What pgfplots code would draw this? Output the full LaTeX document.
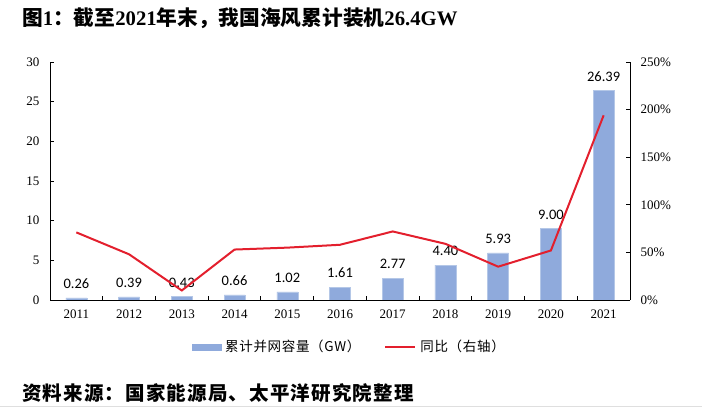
\documentclass[border=0pt]{standalone}
\usepackage{pgfplots}
\pgfplotsset{compat=1.18}
\usepackage{fontspec}
\setmainfont{Liberation Serif}
\newfontfamily\cjk{Noto Sans CJK SC}
\newfontfamily\cjksp{Noto Sans CJK SC}[LetterSpace=6]
\newfontfamily\cjkleg{Noto Sans CJK SC}[LetterSpace=5]
\newfontfamily\calib{Carlito}
\definecolor{barblue}{HTML}{8FAADC}
\definecolor{baredge}{HTML}{B4C7E7}
\definecolor{linered}{HTML}{E31F2D}
\begin{document}
\begin{tikzpicture}
\useasboundingbox (0,0) rectangle (702pt,407pt);
\begin{axis}[
  at={(50pt,107pt)}, anchor=south west,
  scale only axis, width=580pt, height=238pt,
  xmin=-0.5, xmax=10.5, ymin=0, ymax=30,
  axis x line*=bottom, axis y line*=left,
  axis line style={line width=0.9pt, -},
  ytick={0,5,...,30},
  xtick={0.5,1.5,...,9.5}, xticklabels={},
  extra x ticks={0,1,...,10},
  extra x tick labels={2011,2012,2013,2014,2015,2016,2017,2018,2019,2020,2021},
  extra x tick style={major tick length=0pt},
  tick align=inside, major tick length=4pt,
  tick style={line width=0.9pt, black},
  /pgf/number format/assume math mode=true,
  tick label style={font=\fontsize{13}{13}\selectfont},
  xticklabel style={yshift=-6pt},
  yticklabel style={xshift=-7pt},
  point meta=explicit symbolic,
  nodes near coords,
  every node near coord/.append style={anchor=south, inner sep=0pt, yshift=9pt, font=\calib\fontsize{14.5}{14.5}\selectfont, text=black},
]
\addplot[ybar, bar width=21pt, fill=barblue, draw=baredge, line width=0.5pt] coordinates {
(0,0.26) [0.26]
(1,0.39) [0.39]
(2,0.43) [0.43]
(3,0.66) [0.66]
(4,1.02) [1.02]
(5,1.61) [1.61]
(6,2.77) [2.77]
(7,4.40) [4.40]
(8,5.93) [5.93]
(9,9.00) [9.00]
(10,26.39) [26.39]
};
\end{axis}
\begin{axis}[
  at={(50pt,107pt)}, anchor=south west,
  scale only axis, width=580pt, height=238pt,
  xmin=-0.5, xmax=10.5, ymin=0, ymax=250,
  axis x line=none, axis y line*=right,
  axis line style={line width=0.9pt, -},
  ytick={0,50,...,250},
  yticklabel={\pgfmathprintnumber{\tick}\%},
  tick align=inside, major tick length=4pt,
  tick style={line width=0.9pt, black},
  /pgf/number format/assume math mode=true,
  tick label style={font=\fontsize{13}{13}\selectfont},
  yticklabel style={xshift=7pt},
  legend style={draw=none, fill=none, at={(0.516,-0.197)}, anchor=center,
    font=\cjkleg\fontsize{13.5}{13.5}\selectfont, legend columns=2,
    /tikz/every odd column/.append style={column sep=2pt},
    /tikz/every even column/.append style={column sep=22pt}},
]
\addlegendimage{legend image code/.code={\fill[barblue] (0pt,-3pt) rectangle (29pt,3pt);}}
\addlegendentry{累计并网容量（GW）}
\addplot[linered, line width=2pt, mark=none, legend image code/.code={\draw[linered, line width=2pt] (0pt,0pt) -- (30pt,0pt);}] coordinates {
(0,71) (1,48) (2,10) (3,53) (4,55) (5,58) (6,72) (7,59) (8,35) (9,52) (10,194)
};
\addlegendentry{同比（右轴）}
\end{axis}
\node[anchor=west, inner sep=0pt] at (22pt,389pt) {\fontsize{20.7}{20.7}\selectfont\bfseries{\cjk 图}1{\cjk ：截至}2021{\cjk 年末，我国海风累计装机}26.4GW};
\node[anchor=west, inner sep=0pt] at (22pt,14pt) {\cjksp\bfseries\fontsize{19.5}{19.5}\selectfont 资料来源：国家能源局、太平洋研究院整理};
\draw[gray!25, line width=0.8pt] (0pt,1pt) -- (702pt,1pt);
\end{tikzpicture}
\end{document}
